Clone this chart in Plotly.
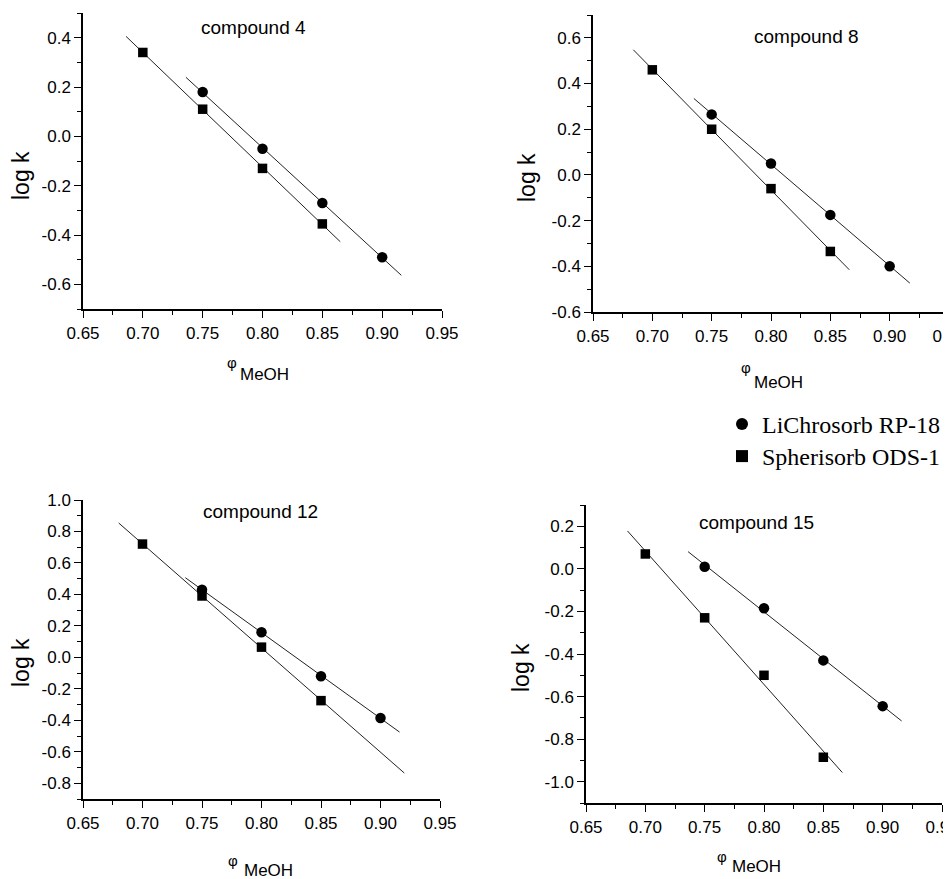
import numpy as np
import plotly.graph_objects as go

W, H = 951, 879   # browser window
OFF = 8           # default page margin of the html body
FW, FH = W - OFF, H - OFF

# ---------------- data ----------------
compounds = ["compound 4", "compound 8", "compound 12", "compound 15"]
series_names = ["LiChrosorb RP-18", "Spherisorb ODS-1"]

lichro_x = [0.75, 0.80, 0.85, 0.90]
spher_x = [0.70, 0.75, 0.80, 0.85]

lichro_c4 = [0.18, -0.05, -0.27, -0.49]
spher_c4 = [0.34, 0.11, -0.13, -0.355]

lichro_c8 = [0.265, 0.05, -0.175, -0.40]
spher_c8 = [0.46, 0.20, -0.06, -0.335]

lichro_c12 = [0.43, 0.16, -0.12, -0.385]
spher_c12 = [0.72, 0.39, 0.065, -0.275]

lichro_c15 = [0.01, -0.185, -0.43, -0.645]
spher_c15 = [0.07, -0.23, -0.50, -0.885]

# x extent of each drawn regression line
lichro_fit_from = [0.736, 0.735, 0.736, 0.736]
lichro_fit_to = [0.916, 0.917, 0.916, 0.916]
spher_fit_from = [0.686, 0.684, 0.680, 0.685]
spher_fit_to = [0.865, 0.866, 0.920, 0.866]

# axis ranges and tick values
y_ranges = [[-0.7, 0.5], [-0.6, 0.7], [-0.9, 1.0], [-1.1, 0.3]]
y_tickvals = [
    [-0.6, -0.4, -0.2, 0.0, 0.2, 0.4],
    [-0.6, -0.4, -0.2, 0.0, 0.2, 0.4, 0.6],
    [-0.8, -0.6, -0.4, -0.2, 0.0, 0.2, 0.4, 0.6, 0.8, 1.0],
    [-1.0, -0.8, -0.6, -0.4, -0.2, 0.0, 0.2],
]
x_range = [0.65, 0.95]

lichro_all = [lichro_c4, lichro_c8, lichro_c12, lichro_c15]
spher_all = [spher_c4, spher_c8, spher_c12, spher_c15]

# ---------------- layout geometry (page pixels) ----------------
# (left, right, top, bottom) of each plot area
boxes = [(83, 442, 13, 309), (593, 949, 15, 312), (83, 440, 500, 799), (586, 942, 505, 803)]
title_pos = [(253, 27), (806, 36), (260, 511), (756, 522)]
ylabel_pos = [(21, 176), (527, 178), (21, 663), (521, 668)]
phi_pos = [(232, 363), (746, 368), (233, 860), (722, 856)]
meoh_pos = [(264, 375), (778, 382), (268, 870), (756, 866)]
legend_pos = [(722, 402), (722, 434)]


def px(x):
    return (x - OFF) / FW


def py(y):
    return 1 - (y - OFF) / FH


FONT = "Liberation Sans, Arial, sans-serif"
SERIF = "Liberation Serif, Times New Roman, serif"

fig = go.Figure()
annotations = []
layout_axes = {}

for i in range(4):
    xa = "x" if i == 0 else f"x{i+1}"
    ya = "y" if i == 0 else f"y{i+1}"
    l, r, t, b = boxes[i]

    # regression lines
    for xs, ys, f0, f1 in [
        (lichro_x, lichro_all[i], lichro_fit_from[i], lichro_fit_to[i]),
        (spher_x, spher_all[i], spher_fit_from[i], spher_fit_to[i]),
    ]:
        slope, icpt = np.polyfit(xs, ys, 1)
        lx = np.array([f0, f1])
        fig.add_trace(go.Scatter(x=lx, y=slope * lx + icpt, mode="lines",
                                 line=dict(color="#222", width=1),
                                 xaxis=xa, yaxis=ya, showlegend=False,
                                 hoverinfo="skip"))

    fig.add_trace(go.Scatter(x=lichro_x, y=lichro_all[i], mode="markers",
                             marker=dict(symbol="circle", size=10.5, color="black"),
                             name=series_names[0], xaxis=xa, yaxis=ya,
                             showlegend=False))
    fig.add_trace(go.Scatter(x=spher_x, y=spher_all[i], mode="markers",
                             marker=dict(symbol="square", size=9.5, color="black"),
                             name=series_names[1], xaxis=xa, yaxis=ya,
                             showlegend=False))

    axis_common = dict(
        showline=True, linecolor="black", linewidth=1.5,
        ticks="outside", ticklen=7, tickwidth=1.2, tickcolor="black",
        showgrid=False, zeroline=False, automargin=False,
        tickfont=dict(family=FONT, size=17, color="black"),
        ticklabeloverflow="allow",
        minor=dict(ticks="outside", ticklen=4, tickwidth=1, tickcolor="black", showgrid=False),
    )
    layout_axes["xaxis" if i == 0 else f"xaxis{i+1}"] = dict(
        axis_common, domain=[px(l), px(r)], range=x_range, anchor=ya,
        tickmode="linear", tick0=0.65, dtick=0.05, tickformat=".2f",
        minor=dict(axis_common["minor"], dtick=0.025, tick0=0.65),
        ticklabelstandoff=1,
    )
    layout_axes["yaxis" if i == 0 else f"yaxis{i+1}"] = dict(
        axis_common, domain=[py(b), py(t)], range=y_ranges[i], anchor=xa,
        tickmode="array", tickvals=y_tickvals[i],
        ticktext=[f"{v:.1f}" for v in y_tickvals[i]],
        minor=dict(axis_common["minor"], dtick=0.1, tick0=0.0),
    )

    annotations.append(dict(text=compounds[i], x=px(title_pos[i][0]), y=py(title_pos[i][1]),
                            xref="paper", yref="paper", showarrow=False,
                            font=dict(family=FONT, size=19, color="black"),
                            xanchor="center", yanchor="middle"))
    annotations.append(dict(text="log k", x=px(ylabel_pos[i][0]), y=py(ylabel_pos[i][1]),
                            xref="paper", yref="paper", showarrow=False, textangle=-90,
                            font=dict(family=FONT, size=23, color="black"),
                            xanchor="center", yanchor="middle"))
    annotations.append(dict(text="φ", x=px(phi_pos[i][0]), y=py(phi_pos[i][1]),
                            xref="paper", yref="paper", showarrow=False,
                            font=dict(family=FONT, size=15, color="black"),
                            xanchor="center", yanchor="middle"))
    annotations.append(dict(text="MeOH", x=px(meoh_pos[i][0]), y=py(meoh_pos[i][1]),
                            xref="paper", yref="paper", showarrow=False,
                            font=dict(family=FONT, size=17, color="black"),
                            xanchor="center", yanchor="middle"))

# legend entries (symbols only), one legend box per entry
fig.add_trace(go.Scatter(x=[None], y=[None], mode="markers",
                         marker=dict(symbol="circle", size=12, color="black"),
                         name=series_names[0], showlegend=True, legend="legend"))
fig.add_trace(go.Scatter(x=[None], y=[None], mode="markers",
                         marker=dict(symbol="square", size=12, color="black"),
                         name=series_names[1], showlegend=True, legend="legend2"))

legend_style = dict(xanchor="left", yanchor="top", orientation="h",
                    entrywidth=184, entrywidthmode="pixels",
                    font=dict(family=SERIF, size=24, color="black"),
                    bgcolor="rgba(0,0,0,0)", borderwidth=0, itemsizing="trace")

fig.update_layout(
    width=FW, height=FH,
    margin=dict(l=0, r=0, t=0, b=0, autoexpand=False),
    paper_bgcolor="white", plot_bgcolor="white",
    template="simple_white",
    annotations=annotations,
    showlegend=True,
    legend=dict(legend_style, x=px(legend_pos[0][0]), y=py(legend_pos[0][1])),
    legend2=dict(legend_style, x=px(legend_pos[1][0]), y=py(legend_pos[1][1])),
    **layout_axes,
)

fig.write_html("out.html")
